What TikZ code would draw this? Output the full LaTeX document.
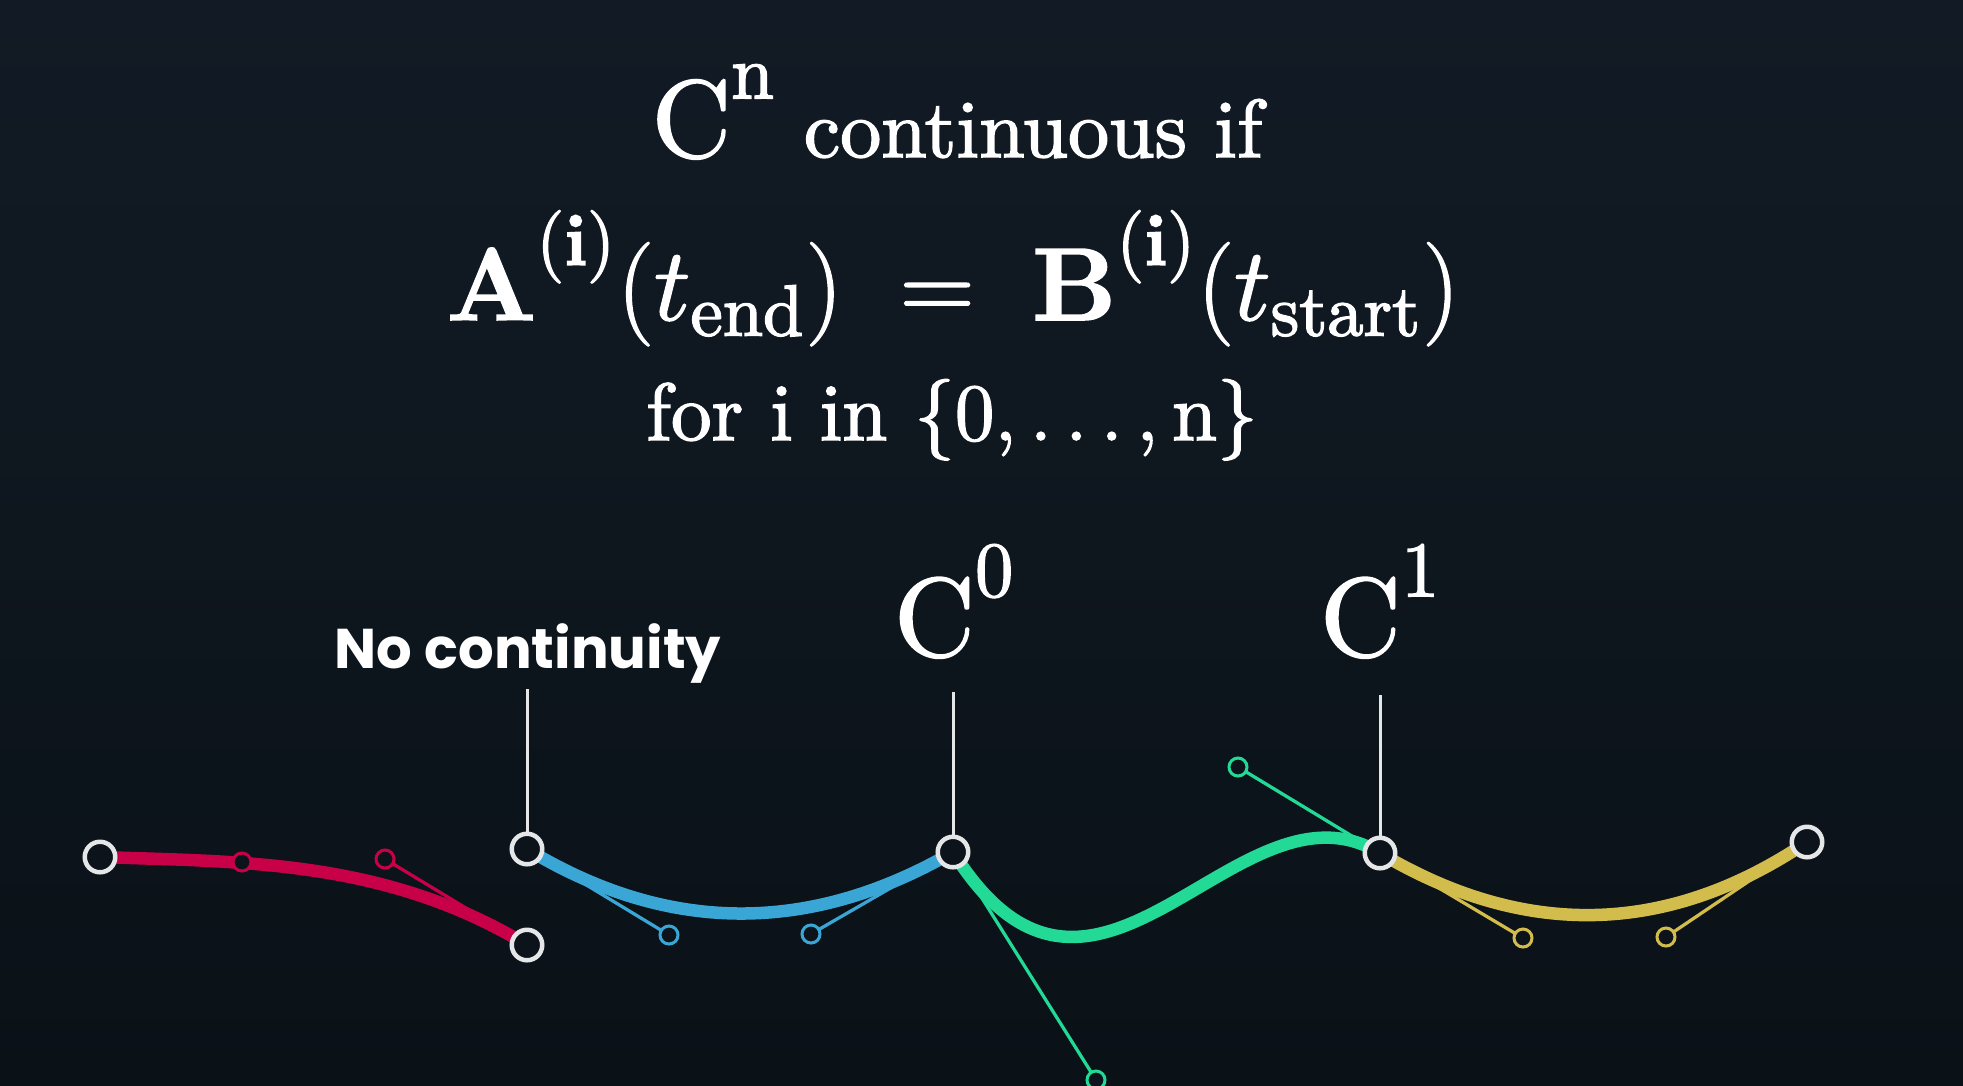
\RequirePackage{fix-cm}
\documentclass[tikz,border=0pt]{standalone}
\usepackage{fontspec}
\setmainfont{lmroman10-regular}[Extension=.otf, BoldFont=lmroman10-bold,
  ItalicFont=lmroman10-italic, BoldItalicFont=lmroman10-bolditalic]
\newfontfamily\popfont{Poppins}
\usetikzlibrary{positioning}
\definecolor{bgtop}{HTML}{121B25}
\definecolor{bgbot}{HTML}{0A1117}
\definecolor{bgmid}{HTML}{0C131A}
\definecolor{segred}{HTML}{C70048}
\definecolor{segblue}{HTML}{3AA6D6}
\definecolor{seggreen}{HTML}{22DA95}
\definecolor{segyellow}{HTML}{D2BD4C}
\definecolor{pinwhite}{HTML}{E4E6E8}
\pgfdeclarelayer{fundo}
\pgfdeclarelayer{tracos}
\pgfsetlayers{fundo,tracos,main}
\newcommand{\sobe}[1]{\raisebox{0.17em}{$\scriptstyle #1$}}
% traco um pouco mais grosso, como no video
\newcommand{\grosso}[1]{\special{pdf:literal direct 2 Tr 0.3 w 1 1 1 RG}#1\special{pdf:literal direct 0 Tr}}

\begin{document}
\begin{tikzpicture}[x=0.2pt, y=-0.2pt,
      ponto/.style={circle, draw=pinwhite, line width=0.9pt, fill=bgmid,
                    minimum size=6.1pt, inner sep=0pt},
      ctrl/.style={circle, draw=#1, line width=0.6pt, fill=bgmid,
                   minimum size=3.6pt, inner sep=0pt},
      curva/.style={#1, line width=2.5pt},
      alca/.style={#1, line width=0.65pt},
      haste/.style={pinwhite, line width=0.6pt},
      texto/.style={text=white, anchor=base, inner sep=0pt}]
    \useasboundingbox (0,0) rectangle (1963,1085);
    \begin{pgfonlayer}{fundo}
      \shade[top color=bgtop, bottom color=bgbot] (0,0) rectangle (1963,1085);
    \end{pgfonlayer}

    % titulo e condicao
    \node[texto] (titulo) at (957,157)
      {\grosso{\fontsize{22}{26}\selectfont$\mathrm{C}^{\sobe{\mathrm{n}}}$\fontsize{16.4}{19}\selectfont\ continuous if}};
    \node[texto] (igual) at (953,320)
      {\grosso{\fontsize{20.7}{24}\selectfont$\mathbf{A}^{\sobe{(\mathbf{i})}}(t_{\mathrm{end}})\;=\;\mathbf{B}^{\sobe{(\mathbf{i})}}(t_{\mathrm{start}})$}};
    \node[texto] (para) at (952,440)
      {\grosso{\fontsize{16.2}{20}\selectfont for i in $\{0, \ldots, \mathrm{n}\}$}};

    % pontos: vermelho, azul, verde, amarelo
    \node[ponto] (r0) at (100,857) {};
    \node[ctrl=segred] (r1) at (242,862) {};
    \node[ctrl=segred] (r2) at (385,859) {};
    \node[ponto] (r3) at (527,945) {};
    \node[ponto] (b0) at (527,849) {};
    \node[ctrl=segblue] (b1) at (669,935) {};
    \node[ctrl=segblue] (b2) at (811,934) {};
    \node[ponto] (b3) at (953,852) {};
    \node[ctrl=seggreen] (g1) at (1096,1080) {};
    \node[ctrl=seggreen] (g2) at (1238,767) {};
    \node[ponto] (g3) at (1380,853) {};
    \node[ctrl=segyellow] (y1) at (1523,938) {};
    \node[ctrl=segyellow] (y2) at (1666,937) {};
    \node[ponto] (y3) at (1807,842) {};

    \begin{pgfonlayer}{tracos}
      \draw[alca=segred] (r0.center) -- (r1.center);
      \draw[alca=segred] (r3.center) -- (r2.center);
      \draw[alca=segblue] (b0.center) -- (b1.center);
      \draw[alca=segblue] (b3.center) -- (b2.center);
      \draw[alca=seggreen] (b3.center) -- (g1.center);
      \draw[alca=seggreen] (g3.center) -- (g2.center);
      \draw[alca=segyellow] (g3.center) -- (y1.center);
      \draw[alca=segyellow] (y3.center) -- (y2.center);
      \draw[curva=segred] (r0.center) .. controls (r1.center) and (r2.center) .. (r3.center);
      \draw[curva=segblue] (b0.center) .. controls (b1.center) and (b2.center) .. (b3.center);
      \draw[curva=seggreen] (b3.center) .. controls (g1.center) and (g2.center) .. (g3.center);
      \draw[curva=segyellow] (g3.center) .. controls (y1.center) and (y2.center) .. (y3.center);
    \end{pgfonlayer}

    % hastes e rotulos
    \coordinate (t0) at (527,689);
    \coordinate (t1) at (953,692);
    \coordinate (t2) at (1380,695);
    \draw[haste] (t0) -- (b0);
    \draw[haste] (t1) -- (b3);
    \draw[haste] (t2) -- (g3);
    \node[texto, font=\popfont\bfseries\fontsize{11.2}{13}\selectfont] (l0) at (528,668) {No continuity};
    \node[texto] (l1) at (955,656) {\grosso{\fontsize{22.4}{26}\selectfont$\mathrm{C}^{\sobe{0}}$}};
    \node[texto] (l2) at (1381,656) {\grosso{\fontsize{22.4}{26}\selectfont$\mathrm{C}^{\sobe{1}}$}};
  \end{tikzpicture}
\end{document}
